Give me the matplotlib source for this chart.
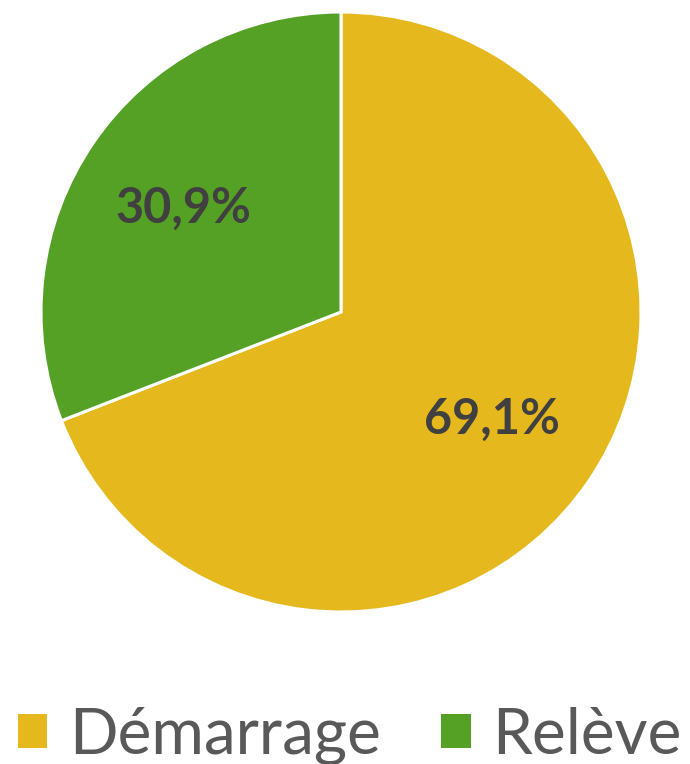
import matplotlib
matplotlib.use("Agg")
import matplotlib.pyplot as plt
from matplotlib.patches import Patch
import numpy as np

categories = ["Démarrage", "Relève"]
values = [69.1, 30.9]
labels = ["69,1%", "30,9%"]
colors = ["#E5B81E", "#55A125"]

plt.rcParams['font.family'] = ['Lato', 'DejaVu Sans']

fig = plt.figure(figsize=(6.9, 7.64), dpi=100)
ax = fig.add_axes([41/690, 152/764, 600/690, 600/764])
wedges, _ = ax.pie(values, colors=colors, startangle=90, counterclock=False,
                   wedgeprops=dict(edgecolor="white", linewidth=2.2))
ax.set_aspect('equal')
ax.set_xlim(-1, 1); ax.set_ylim(-1, 1)
start = 90.0
for v, lab, d in zip(values, labels, [0.61, 0.635]):
    ang = np.deg2rad(start - v / sum(values) * 360 / 2)
    start -= v / sum(values) * 360
    ax.text(d * np.cos(ang), d * np.sin(ang), lab, ha='center', va='center_baseline',
            fontsize=35, fontweight='bold', color='#404040')

handles = [Patch(facecolor=c, edgecolor='none') for c in colors]
fig.legend(handles, categories, loc='center', bbox_to_anchor=(0.507, 1 - 736/764),
           ncol=2, frameon=False, fontsize=46, labelcolor='#595959',
           handlelength=0.46, handleheight=0.46, handletextpad=0.34, columnspacing=0.95,
           borderpad=0, borderaxespad=0)
fig.savefig("out.png", dpi=100)
